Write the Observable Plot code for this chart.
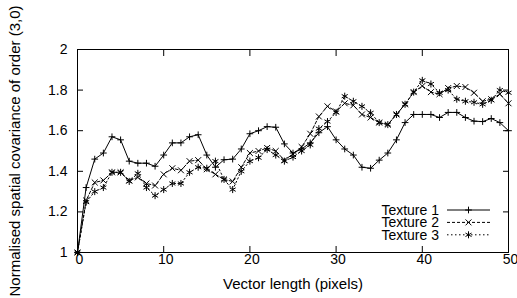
<!DOCTYPE html>
<html><head><meta charset="utf-8">
<script src="https://cdn.jsdelivr.net/npm/d3@7"></script>
<script src="https://cdn.jsdelivr.net/npm/@observablehq/plot@0.6"></script>
<style>
html,body{margin:0;padding:0;background:#fff}
</style>
</head><body><div id="chart"></div>
<script>
const vectorLength = [0,1,2,3,4,5,6,7,8,9,10,11,12,13,14,15,16,17,18,19,20,21,22,23,24,25,26,27,28,29,30,31,32,33,34,35,36,37,38,39,40,41,42,43,44,45,46,47,48,49,50];
const seriesNames = ["Texture 1", "Texture 2", "Texture 3"];
const texture1 = [1.00,1.32,1.46,1.49,1.57,1.555,1.45,1.44,1.44,1.425,1.48,1.54,1.54,1.57,1.58,1.48,1.42,1.457,1.46,1.51,1.585,1.60,1.62,1.617,1.535,1.49,1.51,1.54,1.59,1.62,1.555,1.51,1.48,1.42,1.415,1.455,1.49,1.555,1.64,1.68,1.68,1.68,1.665,1.69,1.69,1.665,1.647,1.645,1.66,1.64,1.60];
const texture2 = [1.00,1.256,1.345,1.355,1.395,1.395,1.355,1.37,1.34,1.33,1.385,1.415,1.405,1.45,1.455,1.41,1.385,1.36,1.35,1.42,1.49,1.50,1.515,1.50,1.455,1.485,1.52,1.585,1.67,1.72,1.695,1.735,1.725,1.68,1.665,1.64,1.63,1.68,1.73,1.79,1.82,1.79,1.78,1.81,1.82,1.815,1.787,1.745,1.755,1.78,1.735];
const texture3 = [1.00,1.248,1.30,1.32,1.395,1.395,1.35,1.39,1.32,1.28,1.31,1.34,1.34,1.395,1.42,1.415,1.45,1.36,1.31,1.40,1.45,1.467,1.507,1.48,1.45,1.47,1.50,1.53,1.61,1.645,1.69,1.77,1.745,1.72,1.688,1.64,1.63,1.68,1.73,1.79,1.848,1.83,1.787,1.80,1.755,1.745,1.74,1.73,1.75,1.80,1.787];
const xTicks = [0,10,20,30,40,50];
const yTicks = [1,1.2,1.4,1.6,1.8,2];
const yTickLabels = ["1","1.2","1.4","1.6","1.8","2"];
const xTitle = "Vector length (pixels)";
const yTitle = "Normalised spatial covariance of order (3,0)";

const seriesValues = [texture1, texture2, texture3];
const symbols = ["plus", "times", "asterisk"];
const d3symbols = [d3.symbolPlus, d3.symbolTimes, d3.symbolAsterisk];
const symR = [2.3, 2.8, 3.3];
const dashes = [null, "3,2", "1.5,2.5"];

const font = "'Liberation Sans', Arial, Helvetica, sans-serif";

const lineMarks = [], dotMarks = [];
seriesValues.forEach((vals, s) => {
  const rows = vals.map((v, i) => ({x: vectorLength[i], y: v}));
  lineMarks.push(Plot.line(rows, {x: "x", y: "y", stroke: "black", strokeWidth: 1, strokeDasharray: dashes[s]}));
  dotMarks.push(Plot.dot(rows, {x: "x", y: "y", symbol: () => symbols[s], r: symR[s], stroke: "black", strokeWidth: 1, fill: "none"}));
});

const plot = Plot.plot({
  width: 517, height: 298,
  marginLeft: 77, marginRight: 9, marginTop: 49, marginBottom: 46,
  style: {fontFamily: font, fontSize: "14px", background: "white", color: "black", overflow: "visible"},
  x: {domain: [0, 50]},
  y: {domain: [1, 2]},
  marks: [
    Plot.axisX({anchor: "bottom", ticks: xTicks, tickSize: 0, tickPadding: 2, dx: 2, tickFormat: d => String(d), label: null, fontSize: 14}),
    Plot.axisX({anchor: "bottom", ticks: xTicks, tickSize: -6, tickFormat: () => "", label: null}),
    Plot.axisX({anchor: "top", ticks: xTicks, tickSize: -6, tickFormat: () => "", label: null}),
    Plot.axisY({anchor: "left", ticks: yTicks, tickSize: 0, tickPadding: 10, tickFormat: d => yTickLabels[yTicks.indexOf(d)], label: null, fontSize: 14}),
    Plot.axisY({anchor: "left", ticks: yTicks, tickSize: -6, tickFormat: () => "", label: null}),
    Plot.axisY({anchor: "right", ticks: yTicks, tickSize: -6, tickFormat: () => "", label: null}),
    ...lineMarks,
    ...dotMarks,
    Plot.frame({stroke: "black", strokeWidth: 1}),
    Plot.text([xTitle], {text: d => d, frameAnchor: "bottom", textAnchor: "middle", dy: 36, fontSize: 15}),
    Plot.text([yTitle], {text: d => d, frameAnchor: "left", textAnchor: "middle", dx: -62, rotate: -90, fontSize: 15})
  ]
});

const svg = d3.select(plot);
const lg = svg.append("g").attr("font-family", font).attr("font-size", 14);
seriesNames.forEach((name, i) => {
  const y = 210 + i * 12.4;
  lg.append("text").attr("x", 439).attr("y", y).attr("dy", "0.35em").attr("text-anchor", "end").attr("fill", "black").text(name);
  const ln = lg.append("line").attr("x1", 447).attr("x2", 490).attr("y1", y).attr("y2", y).attr("stroke", "black").attr("stroke-width", 1);
  if (dashes[i]) ln.attr("stroke-dasharray", dashes[i]);
  lg.append("path").attr("transform", `translate(468.5,${y})`).attr("d", d3.symbol(d3symbols[i], Math.PI * symR[i] * symR[i])()).attr("stroke", "black").attr("fill", "none");
});

document.getElementById("chart").appendChild(plot);
</script>
</body></html>
